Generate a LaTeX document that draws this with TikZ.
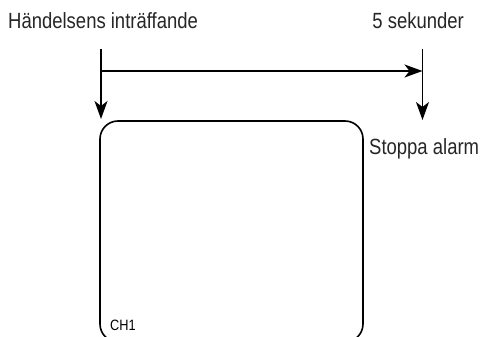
\documentclass[tikz,border=0pt]{standalone}
\usepackage{fontspec}
\setmainfont{Liberation Sans}[FakeStretch=0.84]
\newfontfamily\chfont{Liberation Sans}[FakeStretch=0.85]
\usetikzlibrary{arrows.meta}
\begin{document}
\begin{tikzpicture}[x=1pt,y=-1pt,
  lbl/.style={inner sep=0pt, font=\fontsize{22}{26}\selectfont, text=black!85},
  conn/.style={line width=1.6pt, -{Stealth[length=18pt,width=13pt,inset=5pt]}},
  screenbox/.style={draw, line width=1.6pt, rounded corners=18pt, minimum width=263pt, minimum height=221pt, inner sep=0pt}]
\useasboundingbox (0,0) rectangle (480,337);
\clip (0,0) rectangle (480,337);
\node[screenbox] (screen) at (231.5,231.5) {};
\node[inner sep=0pt, anchor=base west, font=\chfont\fontsize{15}{17}\selectfont] (ch) at (110,330) {CH1};
\node[lbl, anchor=base west] (ev) at (8,29) {Händelsens inträffande};
\node[lbl, anchor=base east] (sek) at (464,29) {5 sekunder};
\node[lbl, anchor=base west] (stop) at (369,154) {Stoppa alarm};
\coordinate (lt) at (101,49);
\coordinate (lb) at (101,119);
\coordinate (rt) at (422.5,49);
\coordinate (rb) at (422.5,120);
\coordinate (hl) at (101,71);
\coordinate (hr) at (422.5,71);
\draw[conn] (lt) -- (lb);
\draw[conn] (rt) -- (rb);
\draw[conn] (hl) -- (hr);
\end{tikzpicture}
\end{document}
